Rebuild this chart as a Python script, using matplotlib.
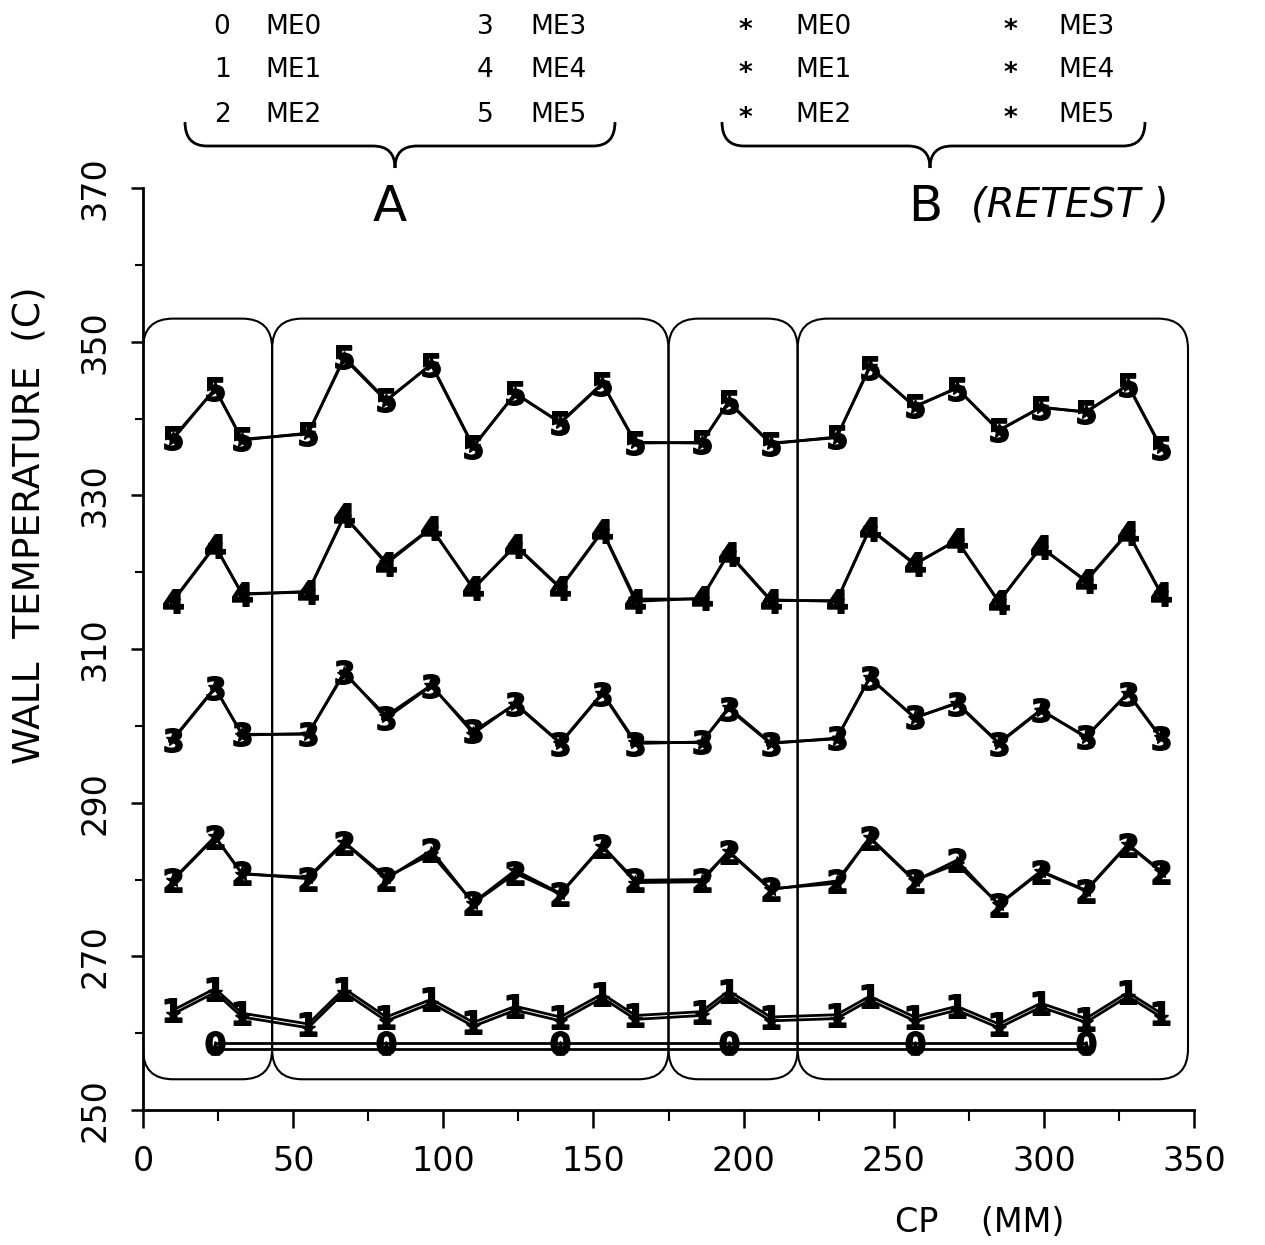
import numpy as np
import matplotlib
matplotlib.use("Agg")
import matplotlib.pyplot as plt
from matplotlib.patches import FancyBboxPatch, PathPatch
from matplotlib.path import Path

plt.rcParams['font.family'] = ['DejaVu Sans']

# probe positions (mm)
cp = [10, 24, 33, 55, 67, 81, 96, 110, 124, 139, 153, 164,
      186, 195, 209, 231, 242, 257, 271, 285, 299, 314, 328, 339]
cp_me0 = [24, 81, 139, 195, 257, 314]

# test A
me5_a = [337.5, 343.8, 337.3, 338.0, 348.0, 342.4, 347.0, 336.3, 343.3, 339.4, 344.5, 336.8,
         336.9, 342.1, 336.7, 337.6, 346.6, 341.6, 343.9, 338.5, 341.4, 340.9, 344.3, 336.2]
me4_a = [316.2, 323.4, 317.2, 317.4, 327.4, 321.1, 325.7, 317.9, 323.4, 317.9, 325.3, 316.2,
         316.6, 322.4, 316.3, 316.3, 325.6, 321.0, 324.2, 316.1, 323.3, 318.8, 325.1, 317.2]
me3_a = [298.2, 304.9, 298.9, 298.9, 307.0, 301.0, 305.2, 299.3, 302.8, 297.7, 304.2, 297.7,
         297.9, 302.2, 297.7, 298.4, 306.2, 301.1, 302.9, 297.7, 302.0, 298.6, 304.2, 298.4]
me2_a = [279.9, 285.5, 280.8, 280.1, 284.8, 280.1, 283.8, 276.9, 280.8, 278.1, 284.3, 279.9,
         280.0, 283.6, 278.7, 279.8, 285.4, 279.8, 282.5, 276.7, 281.0, 278.5, 284.5, 281.0]
me1_a = [263.0, 265.8, 262.6, 261.2, 265.8, 262.1, 264.4, 261.4, 263.5, 262.1, 265.1, 262.3,
         262.8, 265.5, 262.1, 262.4, 264.8, 262.1, 263.5, 261.2, 263.9, 261.9, 265.3, 262.6]
me0_a = [258.7, 258.7, 258.7, 258.7, 258.7, 258.7]

# test B (retest)
me5_b = [337.3, 343.9, 337.2, 338.1, 347.8, 342.3, 347.1, 336.4, 343.2, 339.5, 344.6, 336.9,
         336.8, 342.2, 336.8, 337.5, 346.8, 341.5, 344.0, 338.4, 341.5, 340.8, 344.4, 336.3]
me4_b = [316.3, 323.5, 317.1, 317.5, 327.2, 321.3, 325.8, 317.8, 323.5, 318.0, 325.4, 316.5,
         316.5, 322.5, 316.4, 316.2, 325.7, 321.1, 324.1, 316.2, 323.2, 318.9, 325.2, 317.3]
me3_b = [298.3, 305.0, 298.8, 299.0, 306.8, 301.3, 305.3, 299.0, 302.9, 297.8, 304.3, 297.9,
         297.8, 302.4, 297.8, 298.3, 306.3, 301.0, 303.0, 297.8, 302.1, 298.5, 304.3, 298.5]
me2_b = [280.0, 285.6, 280.7, 280.3, 284.9, 280.3, 283.3, 277.0, 281.2, 278.2, 284.4, 279.6,
         279.7, 283.7, 278.8, 279.5, 285.5, 279.9, 282.0, 276.8, 281.1, 278.6, 284.6, 281.1]
me1_b = [262.5, 265.3, 262.1, 260.7, 265.3, 261.6, 263.9, 260.9, 263.0, 261.6, 264.6, 261.8,
         262.3, 265.0, 261.6, 261.9, 264.3, 261.6, 263.0, 260.7, 263.4, 261.4, 264.8, 262.1]
me0_b = [258.0, 258.0, 258.0, 258.0, 258.0, 258.0]

series_a = [(cp_me0, me0_a, '0'), (cp, me1_a, '1'), (cp, me2_a, '2'),
            (cp, me3_a, '3'), (cp, me4_a, '4'), (cp, me5_a, '5')]
series_b = [(cp_me0, me0_b), (cp, me1_b), (cp, me2_b),
            (cp, me3_b), (cp, me4_b), (cp, me5_b)]

# sections of the duct (boxes on the plot)
sections = [(0, 43), (43, 175), (175, 218), (218, 348)]

W, H = 1265, 1245
fig = plt.figure(figsize=(W / 100, H / 100), dpi=100)
ax = fig.add_axes([143 / W, 135 / H, 1051 / W, 922 / H])

for x, y in series_b:
    ax.plot(x, y, color='black', lw=2.0, marker='*', markersize=11, zorder=3)
for x, y, d in series_a:
    ax.plot(x, y, color='black', lw=2.0, marker=r'$\mathbf{' + d + '}$',
            markersize=17, zorder=4)

ax.set_xlim(0, 350)
ax.set_ylim(250, 370)
ax.set_xticks(np.arange(0, 351, 50))
ax.set_xticks(np.arange(25, 350, 50), minor=True)
ax.set_yticks(np.arange(250, 371, 20))
ax.set_yticks(np.arange(260, 370, 20), minor=True)
for s in ['top', 'right']:
    ax.spines[s].set_visible(False)
for s in ['left', 'bottom']:
    ax.spines[s].set_linewidth(2.0)
ax.tick_params(axis='x', which='major', length=13, width=1.8, pad=12, labelsize=24)
ax.tick_params(axis='x', which='minor', length=8, width=1.5)
ax.tick_params(axis='y', which='major', length=9, width=1.8, pad=14, labelsize=24,
               labelrotation=90)
ax.tick_params(axis='y', which='minor', length=6, width=1.5)
for lab in ax.get_yticklabels():
    lab.set_va('center')

# rounded section boxes
fig.canvas.draw()
bb = ax.get_window_extent()
asp = (bb.width / 350) / (bb.height / 120)
for x0, x1 in sections:
    box = FancyBboxPatch((x0, 254), x1 - x0, 99,
                         boxstyle="round,pad=0,rounding_size=10",
                         mutation_aspect=asp, fill=False, lw=1.5,
                         edgecolor='black', transform=ax.transData, zorder=2)
    ax.add_patch(box)

# axis labels
fig.text(30 / W, 1 - 525 / H, "WALL  TEMPERATURE  (C)", rotation=90,
         ha='center', va='center', fontsize=27)
fig.text(980 / W, 1 - 1222 / H, "CP    (MM)", ha='center', va='center', fontsize=24)

# legend text at top
rows_y = [27, 70, 115]
for i in range(3):
    fig.text(222 / W, 1 - rows_y[i] / H, str(i), ha='center', va='center', fontsize=19)
    fig.text(265 / W, 1 - rows_y[i] / H, f"ME{i}", ha='left', va='center', fontsize=19)
    fig.text(485 / W, 1 - rows_y[i] / H, str(i + 3), ha='center', va='center', fontsize=19)
    fig.text(530 / W, 1 - rows_y[i] / H, f"ME{i + 3}", ha='left', va='center', fontsize=19)
    fig.text(745 / W, 1 - (rows_y[i] + 4) / H, "*", ha='center', va='center', fontsize=19,
             weight='bold')
    fig.text(795 / W, 1 - rows_y[i] / H, f"ME{i}", ha='left', va='center', fontsize=19)
    fig.text(1010 / W, 1 - (rows_y[i] + 4) / H, "*", ha='center', va='center', fontsize=19,
             weight='bold')
    fig.text(1058 / W, 1 - rows_y[i] / H, f"ME{i + 3}", ha='left', va='center', fontsize=19)


def brace(x0, x1, xm, y_end, y_mid, y_tip, r=22):
    pts = [(x0, y_end), (x0, y_mid), (x0 + r, y_mid), (xm - r, y_mid),
           (xm, y_mid), (xm, y_tip), (xm, y_mid), (xm + r, y_mid),
           (x1 - r, y_mid), (x1, y_mid), (x1, y_end)]
    codes = [Path.MOVETO, Path.CURVE3, Path.CURVE3, Path.LINETO,
             Path.CURVE3, Path.CURVE3, Path.CURVE3, Path.CURVE3,
             Path.LINETO, Path.CURVE3, Path.CURVE3]
    verts = [(px / W, 1 - py / H) for px, py in pts]
    fig.add_artist(PathPatch(Path(verts, codes), fill=False, lw=2.0,
                             edgecolor='black', transform=fig.transFigure))


brace(185, 615, 395, 122, 146, 168)
brace(722, 1145, 930, 122, 146, 168)

fig.text(390 / W, 1 - 207 / H, "A", ha='center', va='center', fontsize=36)
fig.text(925 / W, 1 - 207 / H, "B", ha='center', va='center', fontsize=36)
fig.text(1070 / W, 1 - 205 / H, "(RETEST )", ha='center', va='center', fontsize=29,
         style='italic')

fig.savefig("out.png", dpi=100)
